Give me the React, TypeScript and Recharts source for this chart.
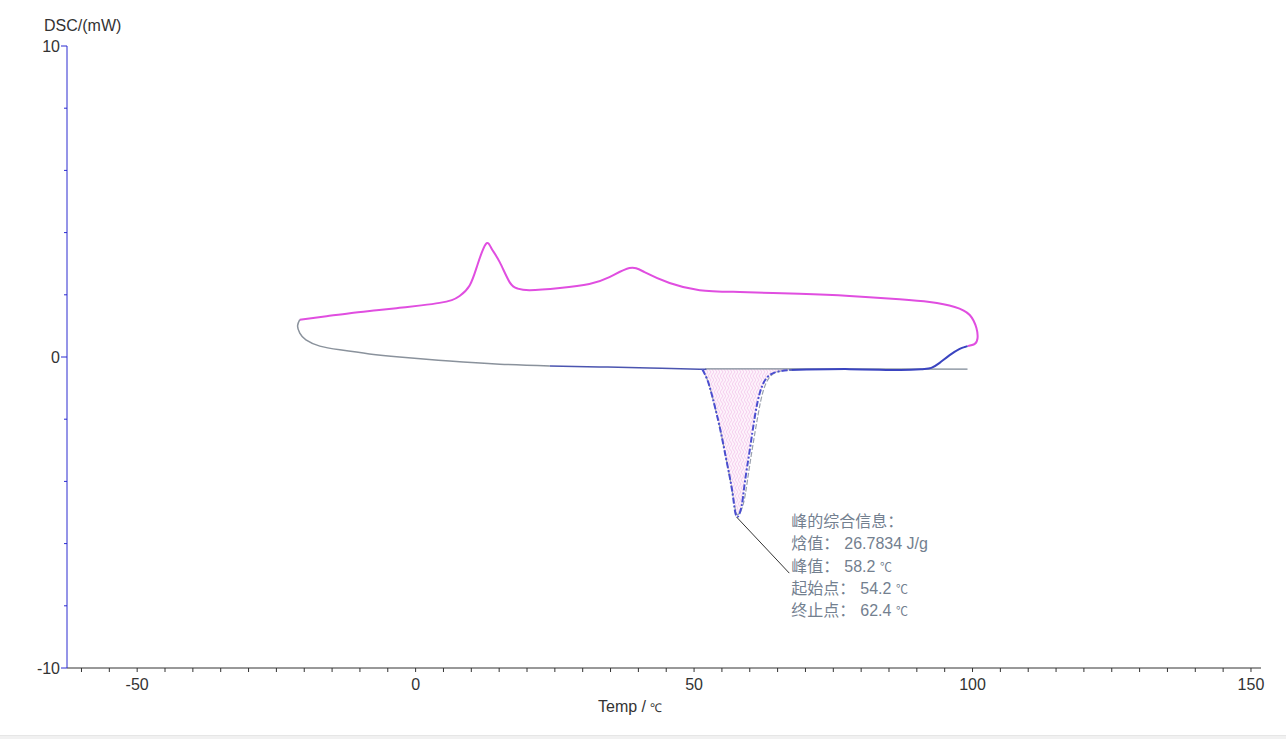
import React from "react";
import {
  ComposedChart,
  Line,
  Area,
  XAxis,
  YAxis,
  ReferenceLine,
  ReferenceDot,
} from "recharts";

// heating curve (magenta), loops back at ~100 °C
const heatT = [-20.8, -16, -11.8, -7, -2.9, 1, 4.3, 6.5, 7.9, 9.7, 11.1, 12.6, 13.6, 15.1, 16.9, 18.3, 20.5, 25.9, 31.2, 34.8, 38.4, 41.1, 45.6, 51.0, 58.2, 68.9, 77.9, 86.9, 92.3, 96.8, 99.5, 100.7, 100.9, 100.4, 99.1];
const heatV = [1.2, 1.31, 1.41, 1.5, 1.58, 1.66, 1.74, 1.83, 1.96, 2.3, 2.96, 3.63, 3.5, 3.05, 2.4, 2.2, 2.15, 2.22, 2.35, 2.57, 2.86, 2.73, 2.38, 2.15, 2.09, 2.03, 1.96, 1.86, 1.77, 1.61, 1.35, 0.93, 0.61, 0.42, 0.35];

// lower curve, grey part (left end)
const coolGreyT = [-20.8, -21.2, -20.8, -19.7, -17.2, -13.6, -8.3, -2.9, 6.1, 15.1, 24.1];
const coolGreyV = [1.2, 1.0, 0.77, 0.55, 0.35, 0.23, 0.1, 0.0, -0.13, -0.23, -0.29];

// lower curve, blue part
const coolBlueT = [24.1, 33.0, 42.0, 51.0, 51.5];
const coolBlueV = [-0.29, -0.32, -0.35, -0.39, -0.4];
const coolBlueT2 = [67.1, 77.9, 86.9, 91.0, 92.6, 94.1, 95.9, 97.7, 98.6, 99.1];
const coolBlueV2 = [-0.42, -0.39, -0.42, -0.39, -0.35, -0.19, 0.06, 0.26, 0.32, 0.35];

// melting peak
const peakT = [51.5, 52.4, 53.3, 54.6, 55.8, 56.9, 57.6, 58.5, 59.1, 60.0, 60.9, 61.8, 63.0, 64.8, 67.1];
const peakV = [-0.4, -0.74, -1.29, -2.25, -3.31, -4.37, -5.12, -4.82, -4.05, -2.99, -1.93, -1.16, -0.68, -0.48, -0.42];
const peakFitT = [51.5, 52.4, 53.3, 54.6, 55.8, 56.9, 57.7, 58.8, 59.6, 60.5, 61.5, 62.4, 63.6, 65.3, 67.5];
const peakFitV = [-0.4, -0.74, -1.29, -2.25, -3.31, -4.37, -5.05, -4.75, -3.95, -2.9, -1.85, -1.1, -0.64, -0.46, -0.42];

// baseline under the peak
const baseT = [52, 99.1];
const baseV = [-0.38, -0.39];

// annotation
const leaderT = [57.6, 67.1];
const leaderV = [-5.14, -6.95];
const annotationLines = [
  { label: "峰的综合信息：", value: "", unit: "" },
  { label: "焓值：", value: "26.7834 J/g", unit: "" },
  { label: "峰值：", value: "58.2 ", unit: "℃" },
  { label: "起始点：", value: "54.2 ", unit: "℃" },
  { label: "终止点：", value: "62.4 ", unit: "℃" },
];

const xTicks = [-60, -55, -50, -45, -40, -35, -30, -25, -20, -15, -10, -5, 0, 5, 10, 15, 20, 25, 30, 35, 40, 45, 50, 55, 60, 65, 70, 75, 80, 85, 90, 95, 100, 105, 110, 115, 120, 125, 130, 135, 140, 145, 150];
const xLabels = [-50, 0, 50, 100, 150];
const yTicks = [-10, -8, -6, -4, -2, 0, 2, 4, 6, 8, 10];
const yLabels = [-10, 0, 10];

const pts = (ts: number[], vs: number[]) => ts.map((t, i) => ({ t, v: vs[i] }));

const heatData = pts(heatT, heatV);
const greyData = pts(coolGreyT, coolGreyV);
const blueData = pts(coolBlueT, coolBlueV);
const blueData2 = pts(coolBlueT2, coolBlueV2);
const peakData = pts(peakT, peakV);
const peakFitData = pts(peakFitT, peakFitV);
const baseData = pts(baseT, baseV);
const fillData = peakT.map((t, i) => ({ t, range: [peakV[i], baseV[0]] }));

const FONT = "'Liberation Sans', Arial, sans-serif";
const CJK = "'Noto Sans CJK SC', sans-serif";

const XTick = (props: any) => {
  const { x, y, payload } = props;
  const show = xLabels.includes(payload.value);
  return (
    <g>
      <line x1={x} y1={y} x2={x} y2={y + 4} stroke="#333" />
      {show && (
        <text x={x} y={y + 22} textAnchor="middle" fontSize={16} fill="#333" fontFamily={FONT}>
          {payload.value}
        </text>
      )}
    </g>
  );
};

const YTick = (props: any) => {
  const { x, y, payload } = props;
  const show = yLabels.includes(payload.value);
  return (
    <g>
      <line x1={x - (show ? 6 : 3)} y1={y} x2={x} y2={y} stroke="#2b2bd0" />
      {show && (
        <text x={x - 7} y={y + 6} textAnchor="end" fontSize={16} fill="#333" fontFamily={FONT}>
          {payload.value}
        </text>
      )}
    </g>
  );
};

const Annotation = (props: any) => {
  const { cx, cy } = props;
  return (
    <g fill="#73808f" fontSize={16}>
      {annotationLines.map((l, i) => (
        <text key={i} x={cx + 2} y={cy - 46 + i * 22.3}>
          <tspan fontFamily={CJK}>{l.label}</tspan>
          {l.value && <tspan fontFamily={FONT} dx={5}>{l.value}</tspan>}
          {l.unit && <tspan fontFamily={CJK} fontSize={12}>{l.unit}</tspan>}
        </text>
      ))}
    </g>
  );
};

export default function App() {
  return (
    <div style={{ position: "absolute", left: 0, top: 0, width: 1286, height: 739, background: "#fff" }}>
      <div style={{ position: "absolute", left: 44, top: 17, fontFamily: FONT, fontSize: 16, color: "#333" }}>DSC/(mW)</div>
      <div style={{ position: "absolute", left: 598, top: 698, fontFamily: FONT, fontSize: 16, color: "#333" }}>
        Temp / <span style={{ fontSize: 12 }}>℃</span>
      </div>
      <div style={{ position: "absolute", left: 0, top: 735, width: 1286, height: 4, background: "#f1f1f1", borderTop: "1px solid #e6e6e6" }} />
      <ComposedChart width={1286} height={739} margin={{ top: 46, right: 25, bottom: 31, left: 7 }}>
        <defs>
          <pattern id="hatch" width="6" height="8" patternUnits="userSpaceOnUse">
            <rect width="6" height="8" fill="#fdf2fb" />
            <path d="M0 0 L3 4 L0 8 M3 0 L6 4 L3 8" stroke="#f2c4ea" strokeWidth="0.8" fill="none" />
          </pattern>
        </defs>
        <XAxis
          dataKey="t"
          type="number"
          domain={[-62.6, 151.8]}
          allowDataOverflow
          ticks={xTicks}
          interval={0}
          tick={<XTick />}
          tickLine={false}
          tickSize={0}
          tickMargin={0}
          height={40}
          axisLine={{ stroke: "#333" }}
        />
        <YAxis
          type="number"
          domain={[-10, 10]}
          allowDataOverflow
          ticks={yTicks}
          interval={0}
          tick={<YTick />}
          tickLine={false}
          tickSize={0}
          tickMargin={0}
          width={60}
          axisLine={{ stroke: "#2b2bd0" }}
        />
        <Area data={fillData} dataKey="range" type="linear" stroke="none" fill="url(#hatch)" fillOpacity={1} isAnimationActive={false} />
        <Line data={baseData} dataKey="v" type="linear" stroke="#7d8896" strokeWidth={1.2} dot={false} isAnimationActive={false} />
        <Line data={heatData} dataKey="v" type="natural" stroke="#e04ee0" strokeWidth={2} dot={false} isAnimationActive={false} />
        <Line data={greyData} dataKey="v" type="natural" stroke="#8a929c" strokeWidth={1.5} dot={false} isAnimationActive={false} />
        <Line data={blueData} dataKey="v" type="natural" stroke="#4b55b0" strokeWidth={1.5} dot={false} isAnimationActive={false} />
        <Line data={blueData2} dataKey="v" type="natural" stroke="#3a44c0" strokeWidth={2} dot={false} isAnimationActive={false} />
        <Line data={peakFitData} dataKey="v" type="natural" stroke="#9aa0ad" strokeWidth={1.2} strokeDasharray="5 2" dot={false} isAnimationActive={false} />
        <Line data={peakData} dataKey="v" type="natural" stroke="#4a4ed0" strokeWidth={2} strokeDasharray="6 2 2 2" dot={false} isAnimationActive={false} />
        <ReferenceLine
          segment={[
            { x: leaderT[0], y: leaderV[0] },
            { x: leaderT[1], y: leaderV[1] },
          ]}
          stroke="#333"
          strokeWidth={1}
        />
        <ReferenceDot x={leaderT[1]} y={leaderV[1]} r={0} shape={<Annotation />} />
      </ComposedChart>
    </div>
  );
}
